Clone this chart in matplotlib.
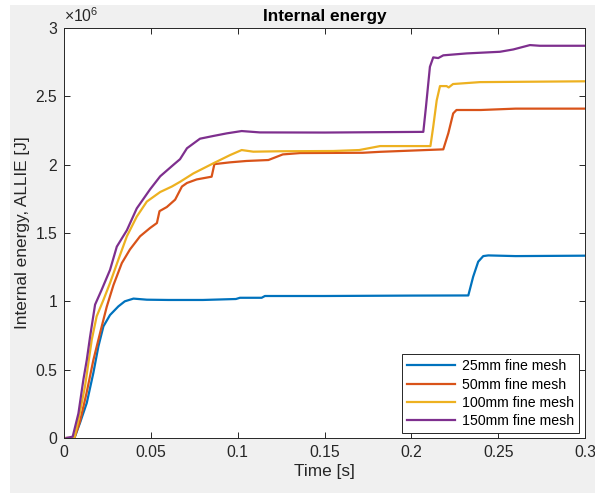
import numpy as np
import matplotlib
matplotlib.use("Agg")
import matplotlib.pyplot as plt
from matplotlib.patches import Rectangle
from matplotlib.ticker import FuncFormatter

plt.rcParams["font.family"] = ["Liberation Sans", "DejaVu Sans"]
plt.rcParams["mathtext.fontset"] = "custom"
plt.rcParams["mathtext.rm"] = "Liberation Sans"
plt.rcParams["mathtext.it"] = "Liberation Sans"

# Internal energy (ALLIE) histories, energy in units of 1e6 J
t_25 = [0.0015, 0.006, 0.0092, 0.0131, 0.0169, 0.0198, 0.0227, 0.0265, 0.0313, 0.035,
        0.040, 0.0477, 0.06, 0.08, 0.099, 0.1013, 0.1138, 0.1157, 0.15, 0.2,
        0.2328, 0.2356, 0.2385, 0.2414, 0.2443, 0.26, 0.3]
e_25 = [0, 0, 0.11, 0.256, 0.476, 0.67, 0.817, 0.90, 0.963, 1.0,
        1.02, 1.012, 1.01, 1.01, 1.017, 1.026, 1.026, 1.039, 1.039, 1.042,
        1.043, 1.18, 1.29, 1.331, 1.336, 1.331, 1.334]

t_50 = [0.0015, 0.006, 0.0092, 0.013, 0.0169, 0.0208, 0.0246, 0.0285, 0.0333, 0.038,
        0.0438, 0.0496, 0.0535, 0.055, 0.0592, 0.064, 0.0679, 0.0708, 0.0764, 0.085,
        0.0866, 0.0956, 0.105, 0.1177, 0.126, 0.136, 0.172, 0.182, 0.2184, 0.2213,
        0.2241, 0.226, 0.24, 0.26, 0.3]
e_50 = [0, 0, 0.12, 0.33, 0.57, 0.77, 0.96, 1.12, 1.28, 1.38,
        1.476, 1.537, 1.573, 1.66, 1.69, 1.744, 1.84, 1.866, 1.892, 1.912,
        2.004, 2.017, 2.027, 2.034, 2.075, 2.085, 2.087, 2.094, 2.112, 2.23,
        2.375, 2.4, 2.4, 2.41, 2.41]

t_100 = [0.0015, 0.006, 0.0083, 0.0121, 0.016, 0.0188, 0.0227, 0.0265, 0.0313, 0.0362,
         0.0419, 0.0477, 0.0554, 0.0621, 0.0669, 0.0745, 0.086, 0.0956, 0.1023, 0.109,
         0.124, 0.155, 0.170, 0.182, 0.211, 0.2126, 0.2146, 0.2165, 0.2203, 0.2215,
         0.224, 0.2395, 0.3]
e_100 = [0, 0, 0.134, 0.378, 0.72, 0.89, 1.01, 1.134, 1.305, 1.476,
         1.62, 1.73, 1.80, 1.84, 1.875, 1.936, 2.01, 2.07, 2.107, 2.095,
         2.098, 2.10, 2.107, 2.136, 2.136, 2.277, 2.47, 2.575, 2.575, 2.565,
         2.59, 2.604, 2.61]

t_150 = [0.0015, 0.005, 0.0083, 0.0112, 0.0131, 0.015, 0.0179, 0.0217, 0.0265, 0.0304,
         0.0362, 0.0419, 0.0496, 0.0554, 0.0631, 0.0668, 0.0708, 0.0783, 0.086, 0.0937,
         0.1023, 0.1128, 0.15, 0.2069, 0.2084, 0.2107, 0.2126, 0.2155, 0.2184, 0.2318,
         0.251, 0.2587, 0.2683, 0.274, 0.3]
e_150 = [0, 0.01, 0.18, 0.43, 0.57, 0.74, 0.976, 1.085, 1.23, 1.40,
         1.52, 1.68, 1.82, 1.915, 2.0, 2.04, 2.12, 2.19, 2.21, 2.229,
         2.246, 2.236, 2.235, 2.24, 2.42, 2.716, 2.785, 2.78, 2.80, 2.814,
         2.826, 2.843, 2.875, 2.87, 2.87]

labels = ["25mm fine mesh", "50mm fine mesh", "100mm fine mesh", "150mm fine mesh"]
colors = ["#0072BD", "#D95319", "#EDB120", "#7E2F8E"]
SCALE = 1e6

fig = plt.figure(figsize=(5.95, 4.93), dpi=100, facecolor="white")
fig.patches.append(Rectangle((10 / 595, 0), 1 - 10 / 595, 1 - 5 / 493,
                             transform=fig.transFigure, facecolor="#f0f0f0",
                             edgecolor="none", zorder=-10))
ax = fig.add_axes([64 / 595, 1 - 438 / 493, 521 / 595, 410 / 493])

series = [(t_25, e_25), (t_50, e_50), (t_100, e_100), (t_150, e_150)]
for (t, e), lab, c in zip(series, labels, colors):
    ax.plot(t, np.array(e) * SCALE, color=c, lw=1.6, label=lab)

ax.set_xlim(0, 0.3)
ax.set_ylim(0, 3 * SCALE)
ax.set_xticks(np.arange(0, 0.31, 0.05))
ax.set_yticks(np.arange(0, 3.01, 0.5) * SCALE)
ax.xaxis.set_major_formatter(FuncFormatter(lambda v, p: f"{v:g}"))
ax.yaxis.set_major_formatter(FuncFormatter(lambda v, p: f"{v / SCALE:g}"))

dark = "#262626"
for s in ax.spines.values():
    s.set_color(dark)
    s.set_linewidth(0.7)
ax.tick_params(direction="in", length=4, width=0.7, colors=dark, labelsize=11.3,
               top=True, right=True, pad=5)

ax.text(0, 1.008, r"$\times10^{6}$", transform=ax.transAxes, fontsize=11.3,
        color=dark, ha="left", va="bottom")

ax.set_title("Internal energy", fontsize=12.4, fontweight="bold", color="black", pad=5)
ax.set_xlabel("Time [s]", fontsize=12.4, color=dark, labelpad=3)
ax.set_ylabel("Internal energy, ALLIE [J]", fontsize=12.4, color=dark, labelpad=4)

leg = ax.legend(loc="lower right", bbox_to_anchor=(0.9885, 0.0122), borderaxespad=0,
                fontsize=10.2, handlelength=3.4, labelspacing=0.3, handletextpad=0.5,
                borderpad=0.35, fancybox=False, framealpha=1)
leg.get_frame().set_edgecolor(dark)
leg.get_frame().set_linewidth(0.7)
for txt in leg.get_texts():
    txt.set_color("black")

fig.savefig("out.png", dpi=100)
